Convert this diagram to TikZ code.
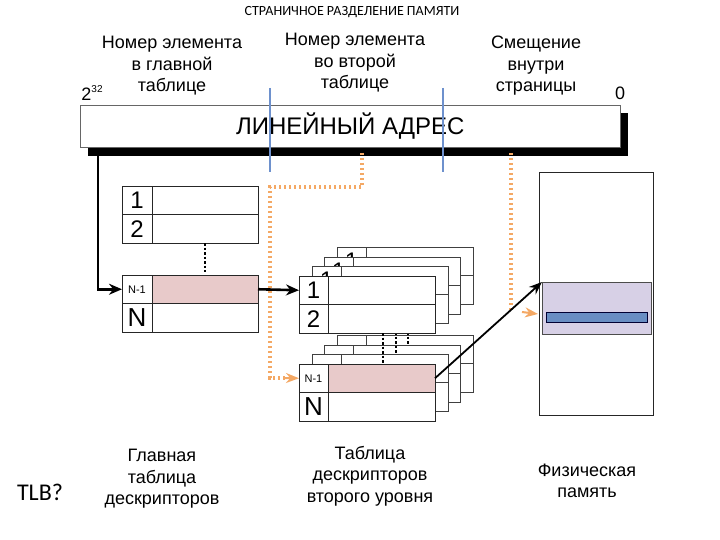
\documentclass[tikz,border=0pt]{standalone}
\usepackage{fontspec}
\setmainfont{Liberation Sans}
\newfontfamily\carlitofont{Carlito}
\usetikzlibrary{arrows.meta}
\definecolor{orangeln}{RGB}{244,168,100}
\definecolor{pinkc}{RGB}{232,202,202}
\definecolor{bluel}{RGB}{110,145,205}
\definecolor{bandc}{RGB}{215,208,230}
\definecolor{barc}{RGB}{105,142,195}
\begin{document}
\begin{tikzpicture}[x=1pt,y=-1pt,
  cell/.style={draw=black!85, line width=0.8pt, fill=white, inner sep=0pt, outer sep=0pt, minimum height=28.5pt},
  idx/.style={cell, minimum width=30pt, font=\fontsize{24}{24}\selectfont},
  sidx/.style={cell, minimum width=29pt, font=\fontsize{24}{24}\selectfont},
  dat/.style={cell, minimum width=106pt},
  sdat/.style={cell, minimum width=107pt},
  layer/.style={draw=black!75, line width=0.8pt},
  lbl/.style={align=center, font=\fontsize{18}{21.5}\selectfont, inner sep=0pt},
  blk/.style={line width=2.6pt, -{Stealth[length=13pt,width=11pt]}},
  blkdot/.style={line width=1.8pt, dash pattern=on 2.5pt off 2pt},
  orangedot/.style={orangeln, line width=4pt, dash pattern=on 2.2pt off 2.8pt},
  otip/.style={orangeln, line width=2pt, -{Stealth[length=13pt,width=10pt]}}
]
\useasboundingbox (0,0) rectangle (720,540);

% title
\node[font=\carlitofont\fontsize{14}{14}\selectfont] (title) at (352,12) {СТРАНИЧНОЕ РАЗДЕЛЕНИЕ ПАМЯТИ};

% header labels
\node[lbl] (h1) at (172,66) {Номер элемента\\в главной\\таблице};
\node[lbl] (h2) at (355,63) {Номер элемента\\во второй\\таблице};
\node[lbl] (h3) at (536,66) {Смещение\\внутри\\страницы};
\node[font=\fontsize{18}{18}\selectfont, inner sep=0pt] (p32) at (92,93) {2\raisebox{0.75ex}{\fontsize{10}{10}\selectfont 32}};
\node[font=\fontsize{18}{18}\selectfont, inner sep=0pt] (p0) at (620,93) {0};

% linear address bar
\fill[black] (88,113) rectangle (628,156);
\node[draw=black!60, line width=0.6pt, fill=white, minimum width=540pt, minimum height=42pt, inner sep=0pt, anchor=north west,
      font=\fontsize{24}{24}\selectfont] (bar) at (80,105) {ЛИНЕЙНЫЙ АДРЕС};
\draw[bluel, line width=1.5pt] (270,88) -- (270,172);
\draw[bluel, line width=1.5pt] (443,88) -- (443,172);

% main table
\node[idx, anchor=north west] (m1i) at (122,186) {1};
\node[dat, anchor=north west] (m1d) at (m1i.north east) {};
\node[idx, anchor=north west] (m2i) at (m1i.south west) {2};
\node[dat, anchor=north west] (m2d) at (m2i.north east) {};
\draw[blkdot] (205,243) -- (205,272);
\node[idx, anchor=north west, font=\fontsize{11}{11}\selectfont] (mN1i) at (122,275) {N-1};
\node[dat, anchor=north west, fill=pinkc] (mN1d) at (mN1i.north east) {};
\node[idx, anchor=north west, font=\fontsize{26}{26}\selectfont] (mNi) at (mN1i.south west) {N};
\node[dat, anchor=north west] (mNd) at (mNi.north east) {};

% stacked second-level tables (back layers)
\foreach \dx/\dy in {38/-29,25/-19,13/-10} {
  \filldraw[layer, fill=white] (299+\dx,276+\dy) rectangle ++(136,57);
  \draw[layer] (299+\dx,304.5+\dy) -- ++(136,0);
  \draw[layer] (328+\dx,276+\dy) -- ++(0,57);
  \node[font=\fontsize{24}{24}\selectfont] at (313.5+\dx,290+\dy) {1};
  \filldraw[layer, fill=white] (299+\dx,364+\dy) rectangle ++(136,57);
  \draw[layer] (299+\dx,392.5+\dy) -- ++(136,0);
  \draw[layer] (328+\dx,364+\dy) -- ++(0,57);
  \draw[blkdot] (383+\dx,333+\dy) -- (383+\dx,364+\dy);
}

% front upper table
\node[sidx, anchor=north west] (u1i) at (299,276) {1};
\node[sdat, anchor=north west] (u1d) at (u1i.north east) {};
\node[sidx, anchor=north west] (u2i) at (u1i.south west) {2};
\node[sdat, anchor=north west] (u2d) at (u2i.north east) {};
\draw[blkdot] (383,333) -- (383,364);

% front lower table
\node[sidx, anchor=north west, font=\fontsize{11}{11}\selectfont] (lN1i) at (299,364) {N-1};
\node[sdat, anchor=north west, fill=pinkc] (lN1d) at (lN1i.north east) {};
\node[sidx, anchor=north west, font=\fontsize{26}{26}\selectfont] (lNi) at (lN1i.south west) {N};
\node[sdat, anchor=north west] (lNd) at (lNi.north east) {};

% physical memory
\node[draw=black!85, line width=0.8pt, minimum width=114pt, minimum height=243pt, inner sep=0pt, anchor=north west] (pm) at (539,172) {};
\node[draw=black!70, line width=0.6pt, fill=bandc, minimum width=109pt, minimum height=52pt, inner sep=0pt, anchor=north west] (band) at (542,282) {};
\node[draw=black!80!blue, line width=0.8pt, fill=barc, minimum width=101pt, minimum height=10pt, inner sep=0pt, anchor=north west] (pbar) at (546,312) {};

% connectors
\coordinate (s1) at (98,156);
\draw[blk] (s1) |- (mN1i.west);
\draw[blk] (mN1d.east) -- (u1i.west);

\coordinate (o1s) at (362,153);
\coordinate (o1a) at (362,187);
\coordinate (o1b) at (270,187);
\coordinate (o1c) at (270,378);
\coordinate (o1d) at (285,378);
\draw[orangedot] (o1s) -- (o1a) -- (o1b) -- (o1c) -- (o1d);
\draw[otip] (o1d) -- (lN1i.west);

\coordinate (o2s) at (511,153);
\coordinate (o2a) at (511,310);
\coordinate (o2b) at (522,312);
\coordinate (o2e) at (538,314);
\draw[orangedot] (o2s) -- (o2a);
\draw[otip] (o2b) -- (o2e);

\draw[line width=1.8pt, -{Stealth[length=13pt,width=10pt]}] (lN1d.east) -- (band.north west);

% bottom labels
\node[lbl] (b1) at (162,479) {Главная\\таблица\\дескрипторов};
\node[lbl] (b2) at (370,476) {Таблица\\дескрипторов\\второго уровня};
\node[lbl] (b3) at (587,481) {Физическая\\память};
\node[font=\carlitofont\fontsize{24}{24}\selectfont, inner sep=0pt] (tlb) at (40,492) {TLB?};
\end{tikzpicture}
\end{document}
